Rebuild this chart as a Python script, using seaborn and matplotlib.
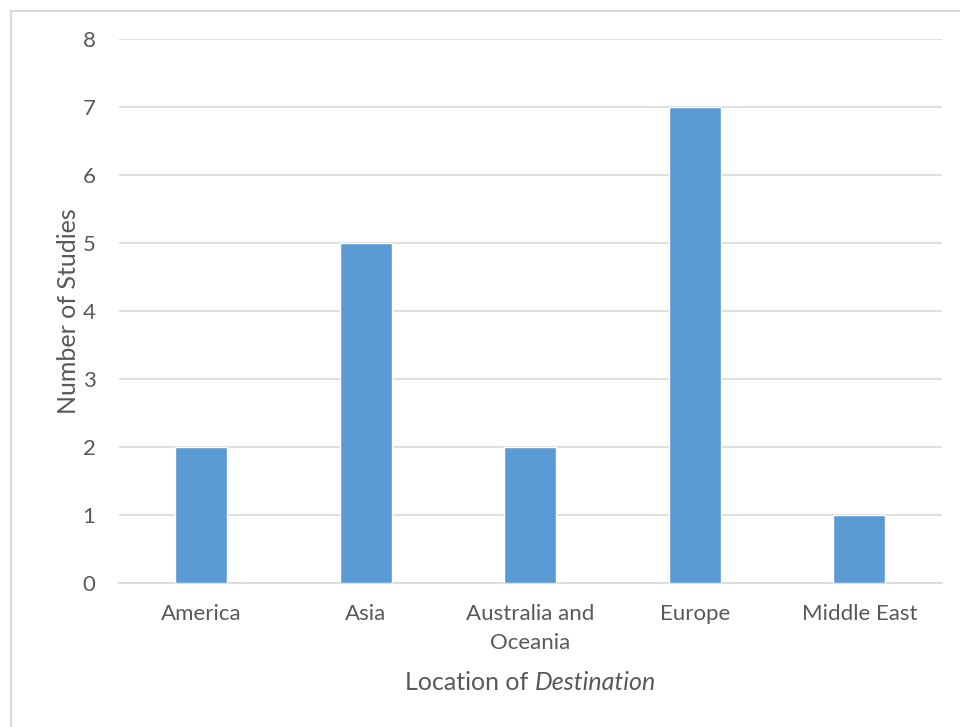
import matplotlib
matplotlib.use("Agg")
import matplotlib.pyplot as plt
import matplotlib.patches as mpatches
import seaborn as sns
import pandas as pd

# Number of studies by destination region
regions = ["America", "Asia", "Australia and\nOceania", "Europe", "Middle East"]
studies = [2, 5, 2, 7, 1]
y_ticks = [0, 1, 2, 3, 4, 5, 6, 7, 8]

df = pd.DataFrame({"region": regions, "studies": studies})

sns.set_theme(style="white")
plt.rcParams["font.family"] = ["Lato", "DejaVu Sans"]

text_color = "#595959"
grid_color = "#D9D9D9"
bar_color = "#5B9BD5"

fig = plt.figure(figsize=(9.6, 7.27), dpi=100)
ax = fig.add_axes([0.124, 0.198, 0.857, 0.748])

sns.barplot(data=df, x="region", y="studies", color=bar_color,
            width=0.316, saturation=1, ax=ax, zorder=3)

ax.set_ylim(0, 8)
ax.set_xlim(-0.5, len(regions) - 0.5)
ax.set_yticks(y_ticks)
ax.yaxis.grid(True, color=grid_color, linewidth=1.2, zorder=0)
ax.set_axisbelow(True)
for side in ["top", "right", "left"]:
    ax.spines[side].set_visible(False)
ax.spines["bottom"].set_color(grid_color)
ax.spines["bottom"].set_linewidth(1.2)
ax.tick_params(axis="both", length=0, labelsize=16, colors=text_color)
ax.tick_params(axis="y", pad=17)
ax.tick_params(axis="x", pad=15)
for lbl in ax.get_xticklabels():
    lbl.set_linespacing(1.6)

ax.set_xlabel("")
ax.set_ylabel("Number of Studies", fontsize=18, color=text_color, labelpad=2)

# x-axis title with the italic word
fig.canvas.draw()
renderer = fig.canvas.get_renderer()
cx = (ax.get_position().x0 + ax.get_position().x1) / 2
ty = 1 - 683 / 727
t1 = fig.text(0, ty, "Location of ", fontsize=18, color=text_color, va="center")
t2 = fig.text(0, ty, "Destination", fontsize=18, color=text_color,
              va="center", style="italic")
w1 = t1.get_window_extent(renderer).width / fig.bbox.width
w2 = t2.get_window_extent(renderer).width / fig.bbox.width
x0 = cx - (w1 + w2) / 2
t1.set_x(x0)
t2.set_x(x0 + w1)

# chart border
fig.patches.append(mpatches.Rectangle((10.5 / 960, -0.1), 1.2, 1.1 - 10.5 / 727,
                                      transform=fig.transFigure, fill=False,
                                      edgecolor=grid_color, linewidth=1.5))

fig.savefig("out.png", dpi=100)
